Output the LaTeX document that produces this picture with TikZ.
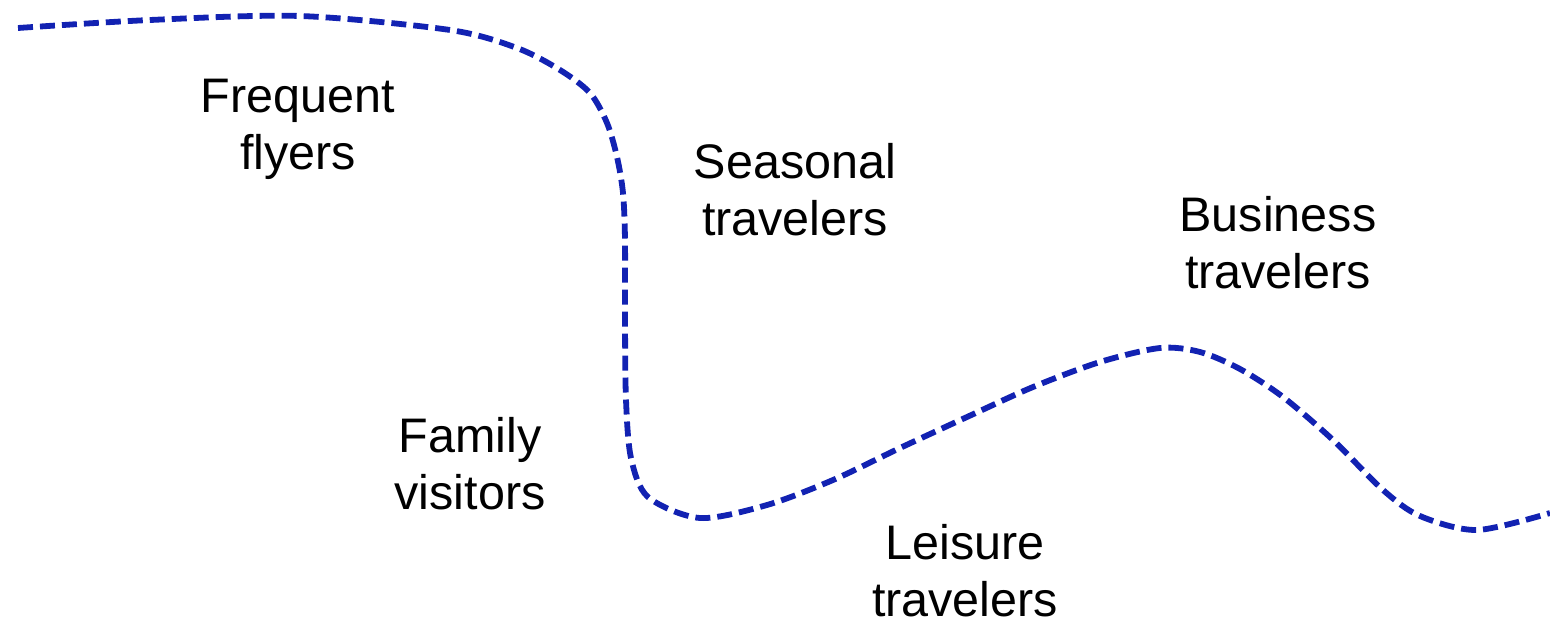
\documentclass[tikz,border=0pt]{standalone}
\usepackage{fontspec}
\setmainfont{Liberation Sans}
\definecolor{curveblue}{RGB}{18,34,178}
\begin{document}
\begin{tikzpicture}[x=1pt,y=-1pt,
  lbl/.style={align=center,font=\fontsize{48.5}{57}\selectfont,inner sep=0pt},
  boundary/.style={curveblue,line width=5.8pt,dash pattern=on 15pt off 7pt}]
\useasboundingbox (0,0) rectangle (1550,623);
\draw[boundary] plot[smooth,tension=0.5] coordinates {
 (18,28) (150,20) (300,16) (450,30) (517,48) (560,70) (590,93) (607,123)
 (617,157) (623,193) (625,240) (625,320) (626,400) (631,458) (648,497)
 (700,518) (767,505) (833,480) (900,448) (967,417) (1033,387) (1100,362)
 (1160,348) (1200,352) (1240,369) (1283,397) (1333,440) (1383,490)
 (1420,516) (1477,530) (1550,513)};
\node[lbl] (freq) at (298,129) {Frequent\\flyers};
\node[lbl] (seas) at (795,190) {Seasonal\\travelers};
\node[lbl] (bus) at (1278,243) {Business\\travelers};
\node[lbl] (fam) at (470,464) {Family\\visitors};
\node[lbl] (leis) at (965,571) {Leisure\\travelers};
\end{tikzpicture}
\end{document}
